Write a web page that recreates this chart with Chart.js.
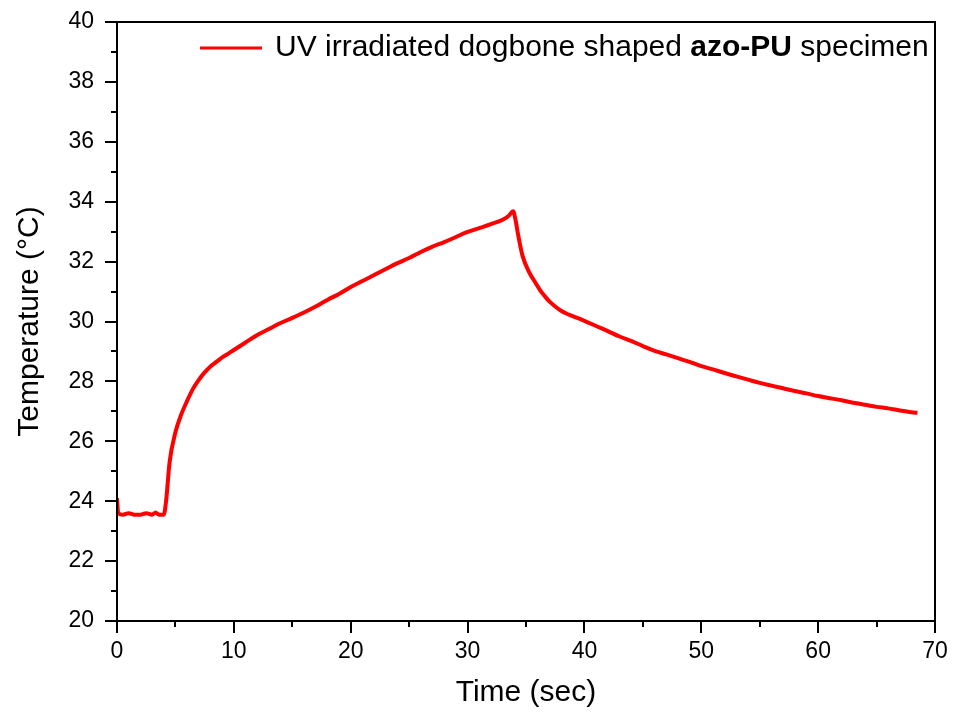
<!DOCTYPE html>
<html>
<head>
<meta charset="utf-8">
<script src="https://cdn.jsdelivr.net/npm/chart.js@4.4.1/dist/chart.umd.min.js"></script>
<style>
  html, body { margin: 0; padding: 0; background: #fff; }
  canvas { display: block; }
</style>
</head>
<body>
<canvas id="chart" width="953" height="713"></canvas>
<script>
/* Temperature vs time of a UV irradiated azo-PU specimen */

const FONT = '"Liberation Sans", Arial, sans-serif';

const timeSec = [
  0, 0.1, 0.5, 1, 1.5, 2, 2.5, 3, 3.3, 3.6, 4.0,
  4.2, 4.5, 5.0, 5.5, 6.0, 6.5, 7.0, 7.5, 8.0, 8.5, 9, 9.5,
  10, 11, 12, 13, 14, 15, 16, 17, 18, 19, 20, 21, 22, 23, 24, 25,
  26, 27, 28, 29, 30, 31, 32, 33, 33.5, 33.9,
  34.1, 34.3, 34.7, 35.3, 35.8, 36.2, 36.6, 37.0, 37.5, 38, 38.5, 39,
  40, 41, 42, 43, 44, 45, 46, 47, 48, 49, 50, 51, 52, 53, 54, 55,
  56, 57, 58, 59, 60, 61, 62, 63, 64, 65, 66, 67, 68, 68.5
];

const tempC = [
  24.1, 23.6, 23.55, 23.6, 23.55, 23.55, 23.6, 23.55, 23.62, 23.55, 23.55,
  24.0, 25.3, 26.3, 26.9, 27.35, 27.75, 28.05, 28.3, 28.5, 28.65, 28.8, 28.92,
  29.05, 29.3, 29.55, 29.75, 29.95, 30.12, 30.3, 30.5, 30.72, 30.92, 31.15, 31.35, 31.55, 31.75, 31.95, 32.12,
  32.32, 32.5, 32.65, 32.82, 32.99, 33.12, 33.25, 33.4, 33.52, 33.68,
  33.4, 32.95, 32.2, 31.62, 31.3, 31.05, 30.85, 30.67, 30.5, 30.36, 30.26, 30.18,
  30.02, 29.85, 29.68, 29.5, 29.35, 29.18, 29.02, 28.9, 28.78, 28.65, 28.51, 28.4, 28.28, 28.17, 28.06, 27.95,
  27.86, 27.77, 27.68, 27.6, 27.51, 27.44, 27.37, 27.29, 27.22, 27.15, 27.1, 27.03, 26.97, 26.95
];

const xMajorTicks = [0, 10, 20, 30, 40, 50, 60, 70];
const xMinorTicks = [5, 15, 25, 35, 45, 55, 65];
const yMajorTicks = [20, 22, 24, 26, 28, 30, 32, 34, 36, 38, 40];
const yMinorTicks = [21, 23, 25, 27, 29, 31, 33, 35, 37, 39];

const seriesLabel = ['UV irradiated dogbone shaped ', 'azo-PU', ' specimen'];

// frame + outward ticks
const axesPlugin = {
  id: 'axesFrame',
  afterDatasetsDraw(chart) {
    const { ctx, chartArea: a, scales: { x, y } } = chart;
    ctx.save();
    ctx.strokeStyle = '#000';
    ctx.lineWidth = 2;
    ctx.strokeRect(a.left, a.top, a.right - a.left, a.bottom - a.top);
    ctx.beginPath();
    xMajorTicks.forEach(v => {
      const px = Math.round(x.getPixelForValue(v));
      ctx.moveTo(px, a.bottom); ctx.lineTo(px, a.bottom + 12);
    });
    xMinorTicks.forEach(v => {
      const px = Math.round(x.getPixelForValue(v));
      ctx.moveTo(px, a.bottom); ctx.lineTo(px, a.bottom + 6);
    });
    yMajorTicks.forEach(v => {
      const py = Math.round(y.getPixelForValue(v));
      ctx.moveTo(a.left, py); ctx.lineTo(a.left - 12, py);
    });
    yMinorTicks.forEach(v => {
      const py = Math.round(y.getPixelForValue(v));
      ctx.moveTo(a.left, py); ctx.lineTo(a.left - 6, py);
    });
    ctx.stroke();
    ctx.restore();
  }
};

// legend with a bold part
const legendPlugin = {
  id: 'mixedLegend',
  afterDraw(chart) {
    const { ctx, chartArea: a } = chart;
    const yMid = a.top + 26;
    ctx.save();
    ctx.strokeStyle = '#ff0000';
    ctx.lineWidth = 3;
    ctx.beginPath();
    ctx.moveTo(200, yMid); ctx.lineTo(262, yMid);
    ctx.stroke();
    ctx.fillStyle = '#000';
    ctx.textBaseline = 'middle';
    ctx.textAlign = 'left';
    let xPos = 275;
    seriesLabel.forEach((part, i) => {
      ctx.font = (i === 1 ? 'bold ' : '') + '30px ' + FONT;
      ctx.fillText(part, xPos, yMid);
      xPos += ctx.measureText(part).width;
    });
    ctx.restore();
  }
};

new Chart(document.getElementById('chart'), {
  type: 'line',
  data: {
    datasets: [{
      label: seriesLabel.join(''),
      data: timeSec.map((t, i) => ({ x: t, y: tempC[i] })),
      borderColor: '#ff0000',
      borderWidth: 4,
      pointRadius: 0,
      cubicInterpolationMode: 'monotone',
      fill: false,
    }]
  },
  options: {
    responsive: false,
    animation: false,
    devicePixelRatio: 1,
    layout: { padding: { top: 22, right: 18, left: 0, bottom: 0 } },
    plugins: { legend: { display: false }, tooltip: { enabled: false } },
    scales: {
      x: {
        type: 'linear',
        min: 0, max: 70,
        afterFit: s => { s.height = 92; s.paddingLeft = 0; s.paddingRight = 0; },
        grid: { display: false, drawTicks: false },
        border: { display: false },
        ticks: { stepSize: 10, padding: 17, color: '#000', font: { family: FONT, size: 23 } },
        title: { display: true, text: 'Time (sec)', color: '#000',
                 font: { family: FONT, size: 30 }, padding: { bottom: 2 } }
      },
      y: {
        min: 20, max: 40,
        afterFit: s => { s.width = 117; s.paddingTop = 0; s.paddingBottom = 0; },
        grid: { display: false, drawTicks: false },
        border: { display: false },
        ticks: { stepSize: 2, padding: 23, color: '#000', font: { family: FONT, size: 23 } },
        title: { display: true, text: 'Temperature (°C)', color: '#000',
                 font: { family: FONT, size: 30 }, padding: { top: 12 } }
      }
    }
  },
  plugins: [axesPlugin, legendPlugin]
});
</script>
</body>
</html>
